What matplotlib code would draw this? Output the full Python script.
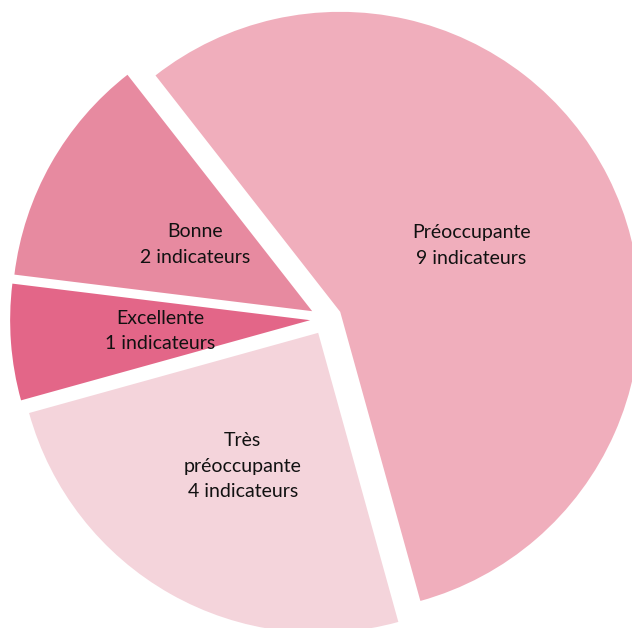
import numpy as np
import matplotlib
matplotlib.use("Agg")
import matplotlib.pyplot as plt

categories = ["Préoccupante", "Très\npréoccupante", "Excellente", "Bonne"]
values = [9, 4, 1, 2]
unit = "indicateurs"
colors = ["#F0AEBC", "#F4D4DB", "#E36688", "#E78AA0"]
label_dist = [0.49, 0.51, 0.50, 0.45]

plt.rcParams['font.family'] = ['Lato', 'DejaVu Sans']

fig = plt.figure(figsize=(6.32, 6.28), dpi=100)
ax = fig.add_axes([0, 0, 1, 1])

wedges, _ = ax.pie(values, colors=colors, startangle=128, counterclock=False,
                   explode=[0.053] * len(values), radius=1.0,
                   wedgeprops=dict(linewidth=0))

for w, cat, v, d in zip(wedges, categories, values, label_dist):
    th = np.deg2rad((w.theta1 + w.theta2) / 2)
    cx, cy = w.center
    ax.text(cx + d * w.r * np.cos(th), cy + d * w.r * np.sin(th),
            f"{cat}\n{v} {unit}", ha="center", va="center",
            fontsize=14, color="#111111", linespacing=1.6)

ax.set_aspect("auto")
ax.set_xlim(-326 / 300, (632 - 326) / 300)
ax.set_ylim(-(628 - 319) / 300, 319 / 300)
ax.axis("off")

fig.savefig("out.png", dpi=100)
